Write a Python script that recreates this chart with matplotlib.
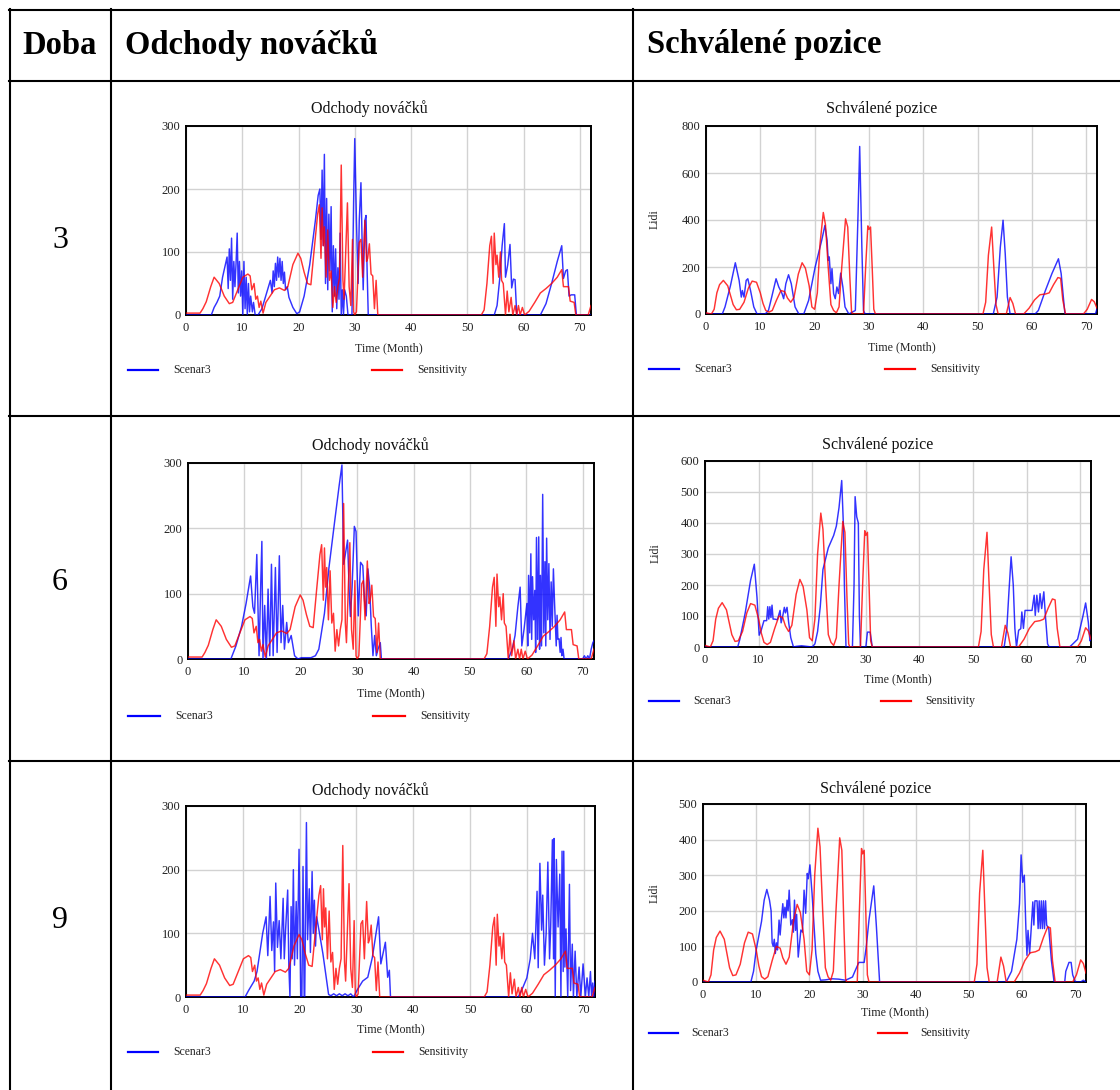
import matplotlib
matplotlib.use("Agg")
import matplotlib.pyplot as plt
from matplotlib.lines import Line2D

plt.rcParams['font.family'] = ['Liberation Serif', 'DejaVu Serif']

W, H = 1120, 1090

# ---------------------------------------------------------------- data
# column headers and row labels of the table
header_doba = "Doba"
header_left = "Odchody nováčků"
header_right = "Schválené pozice"
doba_values = ["3", "6", "9"]
series_names = ["Scenar3", "Sensitivity"]
x_ticks = [0, 10, 20, 30, 40, 50, 60, 70]
odch_y_ticks = [0, 100, 200, 300]
schv_y_ticks_3 = [0, 200, 400, 600, 800]
schv_y_ticks_6 = [0, 100, 200, 300, 400, 500, 600]
schv_y_ticks_9 = [0, 100, 200, 300, 400, 500]

# (time in months, value) pairs

# Sensitivity run, Odchody nováčků (same in every row)
odch_sens = [
    (0, 3), (2.5, 3), (3.0, 10), (3.6, 21), (4.4, 45), (5.0, 60), (5.9, 50), (6.8, 30),
    (7.7, 18), (8.3, 20), (9.2, 40), (10.1, 60), (11.0, 65), (11.4, 62), (11.7, 40),
    (12.1, 50), (12.4, 25), (12.7, 30), (13.0, 12), (13.3, 22), (13.7, 3), (14.2, 20),
    (15.1, 32), (15.7, 40), (16.6, 43), (17.5, 39), (18.1, 45), (19.0, 80), (19.9, 98),
    (20.4, 90), (21.0, 68), (21.6, 50), (22.2, 48), (22.8, 105), (23.4, 160), (23.7, 175),
    (24.0, 90), (24.2, 170), (24.4, 110), (24.6, 140), (24.9, 60), (25.2, 135), (25.5, 55),
    (25.8, 70), (26.1, 12), (26.4, 45), (26.7, 20), (27.0, 45), (27.3, 60), (27.6, 238),
    (27.9, 55), (28.1, 25), (28.7, 178), (29.0, 45), (29.3, 15), (29.6, 120), (29.8, 5),
    (30.0, 0), (30.3, 5), (30.8, 115), (31.1, 120), (31.4, 60), (31.8, 150), (32.1, 85),
    (32.3, 90), (32.6, 113), (32.9, 65), (33.2, 62), (33.5, 10), (33.8, 55), (34.1, 0),
    (52.5, 0), (53.0, 8), (53.5, 50), (54.0, 110), (54.3, 125), (54.6, 50), (54.8, 130),
    (55.1, 80), (55.3, 95), (55.6, 60), (55.9, 100), (56.1, 55), (56.4, 50), (56.8, 0),
    (57.1, 38), (57.4, 5), (57.8, 28), (58.1, 0), (58.5, 15), (58.8, 0), (59.1, 15),
    (59.4, 0), (59.8, 12), (60.2, 0), (61.0, 6), (62.0, 20), (63.0, 35), (64.0, 42),
    (65.0, 50), (66.0, 60), (66.8, 72), (67.1, 45), (67.5, 45), (68.0, 45), (68.3, 22),
    (69.0, 20), (69.3, 0), (71.5, 0), (72.0, 15),
]

# Sensitivity run, Schválené pozice (same in every row)
schv_sens = [
    (0, 5), (1.0, 0), (1.5, 20), (2.0, 90), (2.5, 125), (3.2, 143), (4.0, 120), (4.5, 80),
    (5.0, 40), (5.6, 18), (6.2, 20), (7.0, 50), (7.8, 110), (8.5, 140), (9.3, 135),
    (10.0, 90), (10.5, 45), (11.0, 15), (11.6, 8), (12.2, 15), (13.0, 60), (13.8, 100),
    (14.5, 95), (15.0, 68), (15.6, 50), (16.2, 70), (17.0, 170), (17.7, 218), (18.3, 195),
    (19.0, 120), (19.5, 30), (20.0, 20), (20.5, 90), (21.0, 300), (21.6, 432), (22.0, 380),
    (22.5, 200), (23.0, 40), (23.5, 15), (24.0, 5), (24.5, 30), (25.0, 200), (25.7, 405),
    (26.1, 370), (26.5, 150), (26.8, 10), (27.0, 0), (29.0, 0), (29.4, 200), (29.8, 375),
    (30.0, 360), (30.3, 370), (30.6, 200), (30.9, 20), (31.2, 0), (51.0, 0), (51.5, 50),
    (52.0, 250), (52.6, 370), (53.0, 200), (53.4, 40), (53.8, 0), (55.3, 0), (56.0, 70),
    (56.5, 45), (57.0, 0), (58.5, 0), (59.5, 25), (60.5, 60), (61.5, 82), (62.5, 85),
    (63.2, 90), (64.0, 125), (64.8, 155), (65.3, 152), (65.7, 60), (66.2, 0), (69.5, 0),
    (70.2, 20), (71.0, 62), (71.5, 52), (72.0, 25),
]

# Scenar3, Odchody nováčků, Doba 3
odch_scen_3 = [
    (0, 0), (4.5, 0), (5, 12), (5.5, 20), (6, 30), (6.5, 60), (7, 80), (7.3, 92), (7.5, 42),
    (7.7, 105), (7.9, 55), (8.1, 122), (8.3, 25), (8.5, 85), (8.7, 45), (8.9, 82), (9.1, 130),
    (9.3, 35), (9.5, 85), (9.7, 30), (9.9, 70), (10.1, 0), (10.3, 85), (10.5, 10), (10.7, 60),
    (10.9, 0), (11.1, 50), (11.3, 5), (11.5, 30), (11.8, 5), (12.0, 20), (12.3, 0), (12.8, 0),
    (13.5, 10), (14.0, 25), (14.5, 40), (15.0, 55), (15.3, 35), (15.5, 70), (15.7, 45),
    (15.9, 82), (16.1, 55), (16.3, 92), (16.5, 60), (16.7, 90), (16.9, 55), (17.1, 85),
    (17.3, 50), (17.5, 68), (17.7, 40), (18.0, 45), (18.3, 28), (19.0, 12), (19.7, 2),
    (20.2, 5), (21.0, 30), (22.0, 80), (23.0, 150), (23.5, 190), (23.8, 200), (24.0, 120),
    (24.2, 230), (24.4, 110), (24.6, 255), (24.8, 50), (25.0, 185), (25.2, 40), (25.4, 160),
    (25.6, 70), (25.8, 172), (26.0, 5), (26.2, 110), (26.4, 30), (26.6, 105), (26.8, 10),
    (27.0, 75), (27.2, 25), (27.4, 130), (27.6, 0), (27.8, 40), (28.0, 0), (28.2, 40),
    (28.5, 30), (28.8, 0), (29.5, 0), (29.8, 180), (30.0, 280), (30.3, 150), (30.6, 50),
    (30.8, 150), (31.1, 210), (31.3, 120), (31.5, 40), (31.8, 150), (32.0, 158), (32.2, 70),
    (32.4, 0), (54.8, 0), (55.3, 15), (55.8, 60), (56.2, 110), (56.6, 145), (56.8, 60),
    (57.2, 80), (57.6, 112), (57.9, 43), (58.2, 57), (58.5, 56), (58.8, 0), (63.0, 0),
    (64.0, 18), (65.0, 50), (66.0, 85), (66.8, 110), (67.1, 58), (67.5, 70), (67.8, 72),
    (68.1, 30), (68.5, 32), (69.1, 32), (69.4, 0), (72, 0),
]

# Scenar3, Schválené pozice, Doba 3
schv_scen_3 = [
    (0, 0), (3.0, 0), (3.5, 30), (4.5, 120), (5.4, 218), (6.1, 143), (6.5, 72), (6.7, 100),
    (7.0, 72), (7.4, 143), (7.7, 150), (8.2, 100), (8.8, 30), (9.4, 0), (10.9, 0), (11.5, 15),
    (12.1, 72), (12.9, 150), (13.4, 115), (14.0, 87), (14.3, 65), (14.7, 129), (15.2, 167),
    (15.7, 129), (16.4, 30), (17.1, 0), (18.0, 0), (18.9, 58), (20.1, 200), (21.3, 313),
    (21.9, 377), (22.3, 313), (22.5, 228), (22.7, 243), (23.0, 129), (23.2, 193), (23.5, 87),
    (23.8, 65), (24.1, 115), (24.4, 87), (24.8, 174), (25.2, 115), (25.6, 30), (26.3, 0),
    (27.5, 15), (28.0, 427), (28.3, 713), (28.7, 285), (29.0, 15), (29.3, 0), (52.9, 0),
    (53.6, 72), (54.2, 285), (54.7, 399), (55.1, 257), (55.5, 72), (56.0, 0), (60.6, 0),
    (61.2, 15), (62.5, 100), (63.7, 172), (64.9, 235), (65.4, 172), (65.8, 72), (66.1, 0),
    (71.7, 0), (72.0, 22),
]

# Scenar3, Odchody nováčků, Doba 6
odch_scen_6 = [
    (0, 0), (7.6, 0), (8.5, 20), (9.5, 50), (10.3, 85), (11.1, 127), (11.5, 80), (11.8, 70),
    (12.2, 160), (12.6, 5), (12.9, 115), (13.1, 180), (13.3, 0), (13.6, 82), (13.9, 0),
    (14.2, 107), (14.5, 5), (14.8, 145), (15.1, 5), (15.5, 140), (15.8, 10), (16.2, 158),
    (16.5, 25), (16.8, 82), (17.1, 15), (17.5, 56), (17.8, 25), (18.3, 36), (18.9, 5),
    (19.5, 0), (20.1, 2), (21.8, 2), (22.6, 5), (23.2, 15), (24.2, 70), (25.0, 140),
    (26.0, 210), (26.8, 265), (27.3, 297), (27.6, 145), (27.9, 160), (28.3, 182), (28.6, 100),
    (28.8, 65), (29.1, 110), (29.5, 203), (29.8, 195), (30.2, 66), (30.6, 148), (31.0, 143),
    (31.3, 90), (31.6, 66), (31.9, 138), (32.2, 112), (32.5, 51), (32.8, 5), (33.1, 36),
    (33.4, 5), (33.7, 15), (34.1, 25), (34.3, 0), (56.8, 0), (57.5, 15), (58.0, 36),
    (58.5, 80), (58.9, 110), (59.2, 20), (59.6, 46), (60.1, 85), (60.25, 20), (60.4, 128),
    (60.6, 40), (60.8, 161), (60.95, 30), (61.1, 126), (61.3, 60), (61.5, 105), (61.65, 10),
    (61.8, 186), (62.0, 30), (62.2, 187), (62.35, 15), (62.5, 128), (62.7, 20), (62.9, 252),
    (63.1, 40), (63.3, 149), (63.45, 20), (63.6, 185), (63.8, 60), (64.0, 146), (64.2, 30),
    (64.4, 118), (64.6, 50), (64.8, 138), (65.0, 87), (65.3, 20), (65.45, 67), (65.6, 30),
    (65.8, 31), (66.0, 10), (66.15, 33), (66.3, 5), (66.5, 15), (66.7, 0), (70.0, 0),
    (70.3, 5), (70.6, 0), (70.9, 5), (71.2, 0), (71.5, 15), (71.8, 25), (72.0, 28),
]

# Scenar3, Schválené pozice, Doba 6
schv_scen_6 = [
    (0, 0), (6.1, 0), (6.5, 25), (7.5, 110), (8.5, 215), (9.2, 267), (9.7, 160), (10.1, 38),
    (10.5, 55), (11.0, 85), (11.5, 85), (11.7, 130), (11.9, 90), (12.1, 130), (12.3, 95),
    (12.5, 135), (12.7, 90), (13.0, 90), (13.5, 88), (14.0, 118), (14.2, 78), (14.5, 100),
    (14.8, 128), (15.0, 110), (15.3, 128), (15.6, 80), (16.0, 30), (16.5, 0), (17.0, 2),
    (18.0, 4), (19.0, 2), (20.0, 0), (20.5, 10), (21.0, 50), (21.5, 130), (22.0, 250),
    (23.0, 320), (24.0, 360), (24.5, 390), (25.0, 450), (25.5, 537), (25.8, 400), (26.0, 200),
    (26.3, 0), (27.5, 0), (27.8, 200), (28.0, 485), (28.3, 420), (28.6, 400), (28.8, 100),
    (29.0, 0), (30.0, 0), (30.3, 48), (30.8, 48), (31.0, 25), (31.2, 0), (55.8, 0),
    (56.3, 60), (56.7, 180), (57.1, 291), (57.5, 200), (57.8, 60), (58.1, 0), (58.5, 54),
    (58.9, 59), (59.1, 113), (59.4, 60), (59.7, 118), (60.4, 118), (61.0, 118), (61.4, 167),
    (61.6, 102), (61.9, 167), (62.2, 113), (62.5, 172), (62.8, 124), (63.2, 178), (63.5, 100),
    (63.9, 10), (64.2, 0), (68.0, 0), (68.5, 8), (69.5, 25), (70.5, 100), (71.0, 142),
    (71.5, 80), (71.8, 20), (72.0, 30),
]

# Scenar3, Odchody nováčků, Doba 9
odch_scen_9 = [
    (0, 0), (10.4, 0), (11.0, 10), (12.0, 25), (12.5, 40), (13.0, 70), (13.5, 100),
    (14.1, 126), (14.4, 65), (14.8, 158), (15.1, 73), (15.4, 118), (15.6, 40), (15.8, 179),
    (16.1, 78), (16.4, 120), (16.7, 60), (17.1, 155), (17.3, 60), (17.5, 100), (17.9, 168),
    (18.1, 50), (18.3, 0), (18.5, 142), (18.7, 60), (18.9, 200), (19.1, 50), (19.4, 150),
    (19.6, 60), (19.9, 232), (20.2, 0), (20.4, 0), (20.6, 205), (20.8, 0), (20.9, 0),
    (21.2, 274), (21.4, 90), (21.7, 170), (21.9, 70), (22.2, 197), (22.4, 100), (22.6, 152),
    (22.8, 80), (23.0, 126), (23.5, 100), (24.1, 68), (24.6, 36), (25.1, 4), (25.5, 2),
    (26.0, 5), (26.5, 2), (27.0, 5), (27.5, 2), (28.0, 5), (28.5, 2), (29.0, 5), (29.5, 0),
    (30.2, 12), (31.1, 25), (32.0, 31), (32.8, 62), (33.9, 126), (34.3, 52), (35.1, 86),
    (35.5, 31), (35.8, 42), (36.0, 0), (58.5, 0), (59.3, 15), (60.0, 30), (60.6, 60),
    (61.0, 100), (61.4, 60), (61.8, 166), (62.0, 46), (62.3, 210), (62.6, 105), (62.8, 160),
    (63.1, 50), (63.4, 100), (63.7, 212), (64.0, 60), (64.2, 110), (64.5, 247), (64.7, 60),
    (64.8, 249), (65.0, 0), (65.2, 216), (65.5, 110), (65.8, 193), (66.0, 0), (66.2, 229),
    (66.4, 40), (66.5, 229), (66.7, 47), (66.9, 107), (67.2, 0), (67.5, 177), (67.7, 10),
    (68.0, 83), (68.2, 0), (68.5, 72), (68.8, 0), (69.2, 47), (69.5, 0), (69.9, 52),
    (70.3, 0), (70.6, 30), (70.9, 0), (71.2, 40), (71.4, 0), (71.6, 22), (71.8, 0), (72.0, 25),
]

# Scenar3, Schválené pozice, Doba 9
schv_scen_9 = [
    (0, 0), (9.0, 0), (9.5, 30), (10.0, 90), (11.0, 170), (11.5, 230), (12.0, 260),
    (12.5, 230), (12.8, 200), (13.0, 110), (13.2, 100), (13.4, 120), (13.6, 80), (13.8, 110),
    (14.0, 90), (14.3, 174), (14.5, 132), (14.7, 170), (15.0, 220), (15.2, 180), (15.4, 210),
    (15.6, 180), (15.8, 230), (16.0, 200), (16.2, 258), (16.5, 160), (16.8, 175), (17.0, 140),
    (17.2, 230), (17.4, 145), (17.6, 190), (17.9, 70), (18.4, 146), (18.7, 140), (19.0, 258),
    (19.3, 193), (19.6, 305), (19.8, 290), (20.1, 329), (20.5, 249), (21.2, 80), (21.6, 30),
    (22.1, 5), (23.0, 6), (24.3, 9), (25.5, 8), (26.8, 5), (28.1, 14), (28.7, 35), (29.3, 55),
    (30.3, 55), (30.7, 100), (31.2, 174), (32.1, 270), (32.6, 155), (33.2, 0), (57.0, 0),
    (58.0, 30), (59.0, 120), (59.5, 220), (59.8, 357), (60.1, 280), (60.4, 300), (60.7, 150),
    (60.9, 75), (61.1, 145), (61.4, 80), (61.7, 150), (62.0, 225), (62.2, 160), (62.4, 228),
    (62.8, 228), (63.0, 150), (63.2, 228), (63.4, 150), (63.6, 228), (63.8, 150), (64.0, 228),
    (64.2, 150), (64.4, 228), (64.6, 160), (65.0, 150), (65.5, 60), (66.0, 0), (68.0, 0),
    (68.2, 30), (68.8, 55), (69.2, 55), (69.5, 20), (70.0, 0), (71.0, 0), (71.5, 5), (72.0, 0),
]

# ---------------------------------------------------------------- layout
BLUE = "#0000ff"
RED = "#ff0000"
GRID = "#d2d2d2"

fig = plt.figure(figsize=(W / 100, H / 100), dpi=100)
fig.patch.set_facecolor("white")


def fx(x):
    return x / W


def fy(y):
    return 1 - y / H


def hline(y, x0, x1, lw=1.5):
    fig.add_artist(Line2D([fx(x0), fx(x1)], [fy(y), fy(y)], color="black", lw=lw,
                          transform=fig.transFigure))


def vline(x, y0, y1, lw=1.5):
    fig.add_artist(Line2D([fx(x), fx(x)], [fy(y0), fy(y1)], color="black", lw=lw,
                          transform=fig.transFigure))


# table grid
hline(10, 9, 1120)
hline(80.5, 9, 1120)
hline(416, 9, 1120)
hline(761, 9, 1120)
vline(10, 9, 1090)
vline(110.5, 9, 1090)
vline(632.5, 9, 1090)

# headers
fig.text(fx(60), fy(45), header_doba, ha="center", va="center", fontsize=23.5,
         fontweight="bold")
fig.text(fx(125), fy(45), header_left, ha="left", va="center", fontsize=23.5,
         fontweight="bold")
fig.text(fx(647), fy(45), header_right, ha="left", va="center", fontsize=23.5,
         fontweight="bold")

row_label_y = [240, 583, 920]
for lab, yy in zip(doba_values, row_label_y):
    fig.text(fx(60), fy(yy), lab, ha="center", va="center", fontsize=23)


def chart(box, title, title_xy, xlabel_y, legend, scen, sens, yticks, ylabel_xy=None):
    x0, y0, x1, y1 = box
    ax = fig.add_axes([fx(x0), fy(y1), (x1 - x0) / W, (y1 - y0) / H])
    t_s, v_s = zip(*scen)
    t_r, v_r = zip(*sens)
    ax.plot(t_s, v_s, color=BLUE, lw=1.05, alpha=0.8, zorder=3)
    ax.plot(t_r, v_r, color=RED, lw=1.05, alpha=0.8, zorder=3)
    ax.set_xlim(0, 72)
    ax.set_ylim(yticks[0], yticks[-1])
    ax.set_xticks(x_ticks)
    ax.set_yticks(yticks)
    ax.grid(True, color=GRID, lw=1.0)
    ax.set_axisbelow(True)
    for sp in ax.spines.values():
        sp.set_color("black")
        sp.set_linewidth(1.4)
    ax.tick_params(length=0, labelsize=9, pad=4, colors="#222222")
    ax.tick_params(axis="x", pad=5)
    fig.text(fx(title_xy[0]), fy(title_xy[1]), title, ha="center", va="center",
             fontsize=11.5, color="#111111")
    fig.text(fx((x0 + x1) / 2), fy(xlabel_y), "Time (Month)", ha="center", va="center",
             fontsize=8.6, color="#222222")
    if ylabel_xy is not None:
        fig.text(fx(ylabel_xy[0]), fy(ylabel_xy[1]), "Lidi", ha="center", va="center",
                 fontsize=8.6, rotation=90, color="#222222")
    ly, bx0, bx1, btx, rx0, rx1, rtx = legend
    fig.add_artist(Line2D([fx(bx0), fx(bx1)], [fy(ly), fy(ly)], color=BLUE, lw=1.6,
                          transform=fig.transFigure))
    fig.add_artist(Line2D([fx(rx0), fx(rx1)], [fy(ly), fy(ly)], color=RED, lw=1.6,
                          transform=fig.transFigure))
    fig.text(fx(btx), fy(ly), series_names[0], ha="left", va="center", fontsize=8.4,
             color="#222222")
    fig.text(fx(rtx), fy(ly), series_names[1], ha="left", va="center", fontsize=8.4,
             color="#222222")
    return ax


# Doba 3
chart((186, 126, 591, 315), header_left, (369, 109), 348,
      (370, 128, 158, 173, 372, 402, 417), odch_scen_3, odch_sens, odch_y_ticks)
chart((706, 126, 1097, 314), header_right, (882, 109), 347,
      (369, 649, 679, 694, 885, 915, 930), schv_scen_3, schv_sens, schv_y_ticks_3,
      ylabel_xy=(655, 219))

# Doba 6
chart((188, 463, 594, 659), header_left, (370, 446), 693,
      (716, 128, 160, 175, 373, 405, 420), odch_scen_6, odch_sens, odch_y_ticks)
chart((705, 461, 1091, 647), header_right, (878, 445), 679,
      (701, 649, 679, 693, 881, 911, 925), schv_scen_6, schv_sens, schv_y_ticks_6,
      ylabel_xy=(656, 553))

# Doba 9
chart((186, 806, 595, 997), header_left, (370, 791), 1029,
      (1052, 128, 158, 173, 373, 403, 418), odch_scen_9, odch_sens, odch_y_ticks)
chart((703, 804, 1086, 982), header_right, (876, 789), 1012,
      (1033, 649, 678, 691, 878, 907, 920), schv_scen_9, schv_sens, schv_y_ticks_9,
      ylabel_xy=(655, 893))

fig.savefig("out.png", dpi=100, facecolor="white")
